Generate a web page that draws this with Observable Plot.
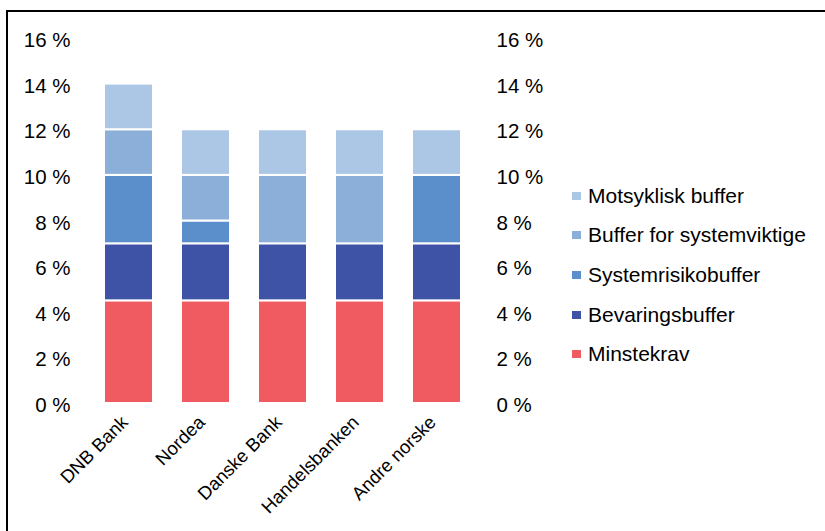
<!DOCTYPE html>
<html><head><meta charset="utf-8">
<script src="https://cdn.jsdelivr.net/npm/d3@7"></script>
<script src="https://cdn.jsdelivr.net/npm/@observablehq/plot@0.6"></script>
<style>
html,body{margin:0;padding:0;background:#fff;}
body{width:825px;height:531px;position:relative;overflow:hidden;font-family:"Liberation Sans",Arial,sans-serif;}
#frame{position:absolute;left:6px;top:10px;width:900px;height:600px;border-left:2px solid #000;border-top:2px solid #000;}
#chart{position:absolute;left:0;top:0;}
#legend{position:absolute;left:572px;top:176px;font-size:21px;color:#000;}
.item{height:39.6px;display:flex;align-items:center;}
.sw{width:9px;height:8px;margin-right:7px;}
</style></head><body>
<div id="frame"></div>
<div id="chart"></div>
<div id="legend"></div>
<script>
const categories = ["DNB Bank","Nordea","Danske Bank","Handelsbanken","Andre norske"];
const seriesNames = ["Minstekrav","Bevaringsbuffer","Systemrisikobuffer","Buffer for systemviktige","Motsyklisk buffer"];
const minstekrav = [4.5,4.5,4.5,4.5,4.5];
const bevaringsbuffer = [2.5,2.5,2.5,2.5,2.5];
const systemrisikobuffer = [3,1,0,0,3];
const systemviktige = [2,2,3,3,0];
const motsyklisk = [2,2,2,2,2];
const colors = ["#F05B61","#3F53A6","#5A8FCB","#8BAFD9","#ACC7E6"];
const yTicks = [0,2,4,6,8,10,12,14,16];

const seriesValues = [minstekrav,bevaringsbuffer,systemrisikobuffer,systemviktige,motsyklisk];
const data = [];
seriesNames.forEach((s,i)=>categories.forEach((c,j)=>data.push({bank:c,series:s,value:seriesValues[i][j]})));

const fmt = d => d + " %";
const chart = Plot.plot({
  width: 825, height: 531,
  marginLeft: 75, marginRight: 336, marginTop: 38, marginBottom: 128,
  style: {fontFamily: '"Liberation Sans", Arial, sans-serif', fontSize: "20.5px", color: "#000", background: "transparent"},
  x: {domain: categories, padding: 0.365, axis: null},
  y: {domain: [0,16], axis: null},
  color: {domain: seriesNames, range: colors},
  marks: [
    Plot.barY(data, {x:"bank", y:"value", fill:"series", stroke:"white", strokeWidth:2}),
    Plot.axisY({anchor:"left", label: null, ticks: yTicks, tickSize:0, tickPadding:5, tickFormat: fmt, dy: 2, fontSize: 20.5}),
    Plot.axisY({anchor:"right", label: null, ticks: yTicks, tickSize:0, tickPadding:7, tickFormat: fmt, dy: 2, fontSize: 20.5}),
    Plot.text(categories, {x: d=>d, frameAnchor:"bottom", rotate:-45, textAnchor:"end", dx: 0, dy: 20, fontSize: 18.5, fill:"#000"})
  ]
});
document.getElementById("chart").appendChild(chart);

const legend = document.getElementById("legend");
seriesNames.slice().reverse().forEach((s)=>{
  const i = seriesNames.indexOf(s);
  const row = document.createElement("div"); row.className="item";
  const sw = document.createElement("div"); sw.className="sw"; sw.style.background = colors[i];
  const t = document.createElement("span"); t.textContent = s;
  row.appendChild(sw); row.appendChild(t); legend.appendChild(row);
});
</script>
</body></html>
